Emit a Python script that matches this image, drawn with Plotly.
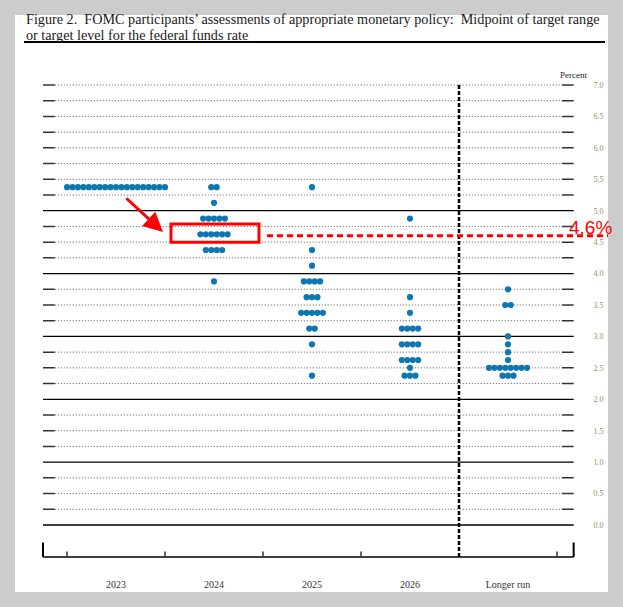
import plotly.graph_objects as go

# dot plot data: rate level (midpoint) and number of participants at that level
categories = ["2023", "2024", "2025", "2026", "Longer run"]

levels_2023 = [5.375]
counts_2023 = [19]

levels_2024 = [5.375, 5.125, 4.875, 4.625, 4.375, 3.875]
counts_2024 = [2, 1, 5, 6, 4, 1]

levels_2025 = [5.375, 4.375, 4.125, 3.875, 3.625, 3.375, 3.125, 2.875, 2.375]
counts_2025 = [1, 1, 1, 4, 3, 5, 2, 1, 1]

levels_2026 = [4.875, 3.625, 3.375, 3.125, 2.875, 2.625, 2.5, 2.375]
counts_2026 = [1, 1, 1, 4, 4, 4, 1, 3]

levels_lr = [3.75, 3.5, 3.0, 2.875, 2.75, 2.625, 2.5, 2.375]
counts_lr = [1, 2, 1, 1, 1, 1, 8, 3]

median_2024 = 4.6

all_levels = [levels_2023, levels_2024, levels_2025, levels_2026, levels_lr]
all_counts = [counts_2023, counts_2024, counts_2025, counts_2026, counts_lr]

W, H = 623, 607
DOT_STEP = 0.0555   # horizontal spacing between dots, in category units
X_LEFT, X_RIGHT = -0.745, 4.67
Y_BOTTOM = -0.51

xs, ys = [], []
for ci, (lv, cn) in enumerate(zip(all_levels, all_counts)):
    for level, n in zip(lv, cn):
        for k in range(n):
            xs.append(ci + (k - (n - 1) / 2) * DOT_STEP)
            ys.append(level)

fig = go.Figure()
fig.add_trace(go.Scatter(
    x=xs, y=ys, mode="markers",
    marker=dict(size=6.2, color="#0f77b0"),
    hoverinfo="skip", showlegend=False,
))

shapes = []
# white page on grey background
shapes.append(dict(type="rect", xref="paper", yref="paper", layer="below",
                   x0=15 / W, x1=608 / W, y0=1 - 592 / H, y1=1 - 15 / H,
                   fillcolor="white", line=dict(width=0)))
# rule under the title
shapes.append(dict(type="line", xref="paper", yref="paper",
                   x0=24 / W, x1=605 / W, y0=1 - 42 / H, y1=1 - 42 / H,
                   line=dict(color="black", width=2)))

# horizontal grid: solid at whole percents up to 5, dotted with end dashes otherwise
end = 0.12
for q in range(29):
    v = q * 0.25
    if v == int(v) and v <= 5:
        shapes.append(dict(type="line", xref="x", yref="y", layer="below",
                           x0=X_LEFT, x1=X_RIGHT, y0=v, y1=v,
                           line=dict(color="black", width=1.3)))
    else:
        shapes.append(dict(type="line", xref="x", yref="y", layer="below",
                           x0=X_LEFT + end, x1=X_RIGHT - end, y0=v, y1=v,
                           line=dict(color="#555555", width=1, dash="1px,2px")))
        for a, b in [(X_LEFT, X_LEFT + end), (X_RIGHT - end, X_RIGHT)]:
            shapes.append(dict(type="line", xref="x", yref="y", layer="below",
                               x0=a, x1=b, y0=v, y1=v,
                               line=dict(color="#333333", width=1.5)))

# bottom axis with ticks
shapes.append(dict(type="line", xref="x", yref="y", x0=X_LEFT, x1=X_RIGHT,
                   y0=Y_BOTTOM, y1=Y_BOTTOM, line=dict(color="black", width=1.5)))
for xe in [X_LEFT, X_RIGHT]:
    shapes.append(dict(type="line", xref="x", yref="y", x0=xe, x1=xe,
                       y0=Y_BOTTOM, y1=Y_BOTTOM + 0.23, line=dict(color="black", width=2)))
for xt in [-0.5, 0.5, 1.5, 2.5, 4.5]:
    shapes.append(dict(type="line", xref="x", yref="y", x0=xt, x1=xt,
                       y0=Y_BOTTOM, y1=Y_BOTTOM + 0.09, line=dict(color="#333333", width=1.5)))
# dashed separator before longer run
shapes.append(dict(type="line", xref="x", yref="y", x0=3.5, x1=3.5,
                   y0=Y_BOTTOM, y1=7.0, line=dict(color="black", width=2.5, dash="4px,2px")))

# red highlight of 2024 median
shapes.append(dict(type="rect", xref="x", yref="y", x0=0.561, x1=1.459,
                   y0=4.50, y1=4.79, line=dict(color="#ff0000", width=3)))
shapes.append(dict(type="line", xref="paper", yref="y", x0=267 / W, x1=608 / W,
                   y0=median_2024, y1=median_2024,
                   line=dict(color="#ff0000", width=3, dash="6px,4px")))

title_font = dict(family="Liberation Serif", size=14.2, color="#1a1a1a")
annotations = [
    dict(xref="paper", yref="paper", x=24 / W, y=1 - 9 / H, xanchor="left", yanchor="top",
         showarrow=False, align="left",
         text="Figure 2.  FOMC participants\u2019 assessments of appropriate monetary policy:  Midpoint of target range",
         font=title_font),
    dict(xref="paper", yref="paper", x=24 / W, y=1 - 25 / H, xanchor="left", yanchor="top",
         showarrow=False, align="left",
         text="or target level for the federal funds rate",
         font=title_font),
    dict(xref="paper", yref="paper", x=573 / W, y=1 - 75 / H, xanchor="center", yanchor="middle",
         showarrow=False, text="Percent",
         font=dict(family="Liberation Serif", size=9, color="#222222")),
    dict(xref="paper", yref="y", x=590 / W, y=median_2024 + 0.13, xanchor="center", yanchor="middle",
         showarrow=False, text=f"{median_2024}%",
         font=dict(family="Liberation Sans", size=19, color="#ff0000")),
    dict(xref="x", yref="y", x=0.48, y=4.66, axref="x", ayref="y", ax=0.09, ay=5.22,
         text="", showarrow=True, arrowhead=2, arrowsize=1.3, arrowwidth=3,
         arrowcolor="#ff0000"),
]

fig.update_layout(
    width=W, height=H,
    margin=dict(l=0, r=0, t=0, b=0),
    paper_bgcolor="#cccccc",
    plot_bgcolor="rgba(0,0,0,0)",
    shapes=shapes,
    annotations=annotations,
    xaxis=dict(
        domain=[32.7 / W, 586.4 / W], range=[-0.85, 4.80],
        showgrid=False, zeroline=False, showline=False,
        tickvals=list(range(len(categories))), ticktext=categories,
        ticks="", ticklabelstandoff=14,
        tickfont=dict(family="Liberation Serif", size=10, color="#333333"),
    ),
    yaxis=dict(
        domain=[44.29 / H, 528.29 / H], range=[-0.6, 7.1],
        side="right", showgrid=False, zeroline=False, showline=False,
        tickvals=[i * 0.5 for i in range(15)], tickformat=".1f",
        ticks="", ticklabelstandoff=6,
        tickfont=dict(family="Liberation Serif", size=8, color="#9a8a72"),
    ),
)

# drop the default page margin so the figure sits at the window origin
fig.write_html("out.html", config={"displayModeBar": False},
               post_script="document.body.style.margin='0';")
